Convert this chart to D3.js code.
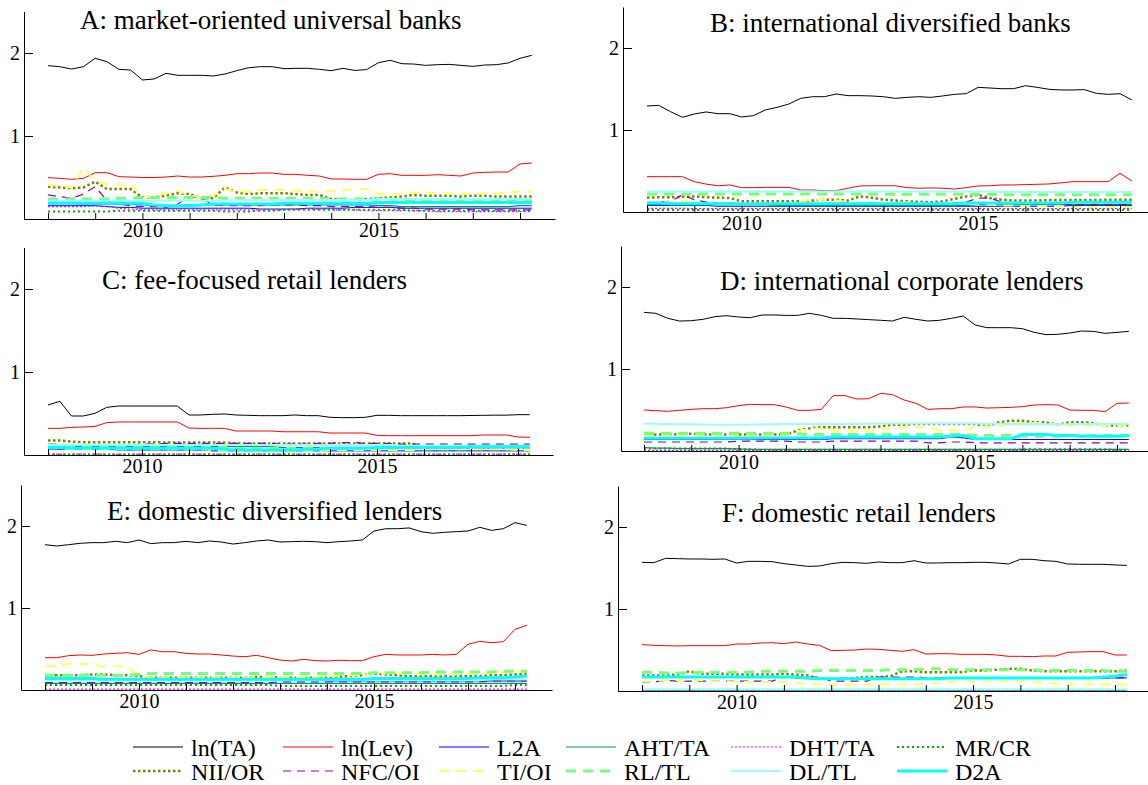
<!DOCTYPE html>
<html><head><meta charset="utf-8">
<script src="https://cdn.jsdelivr.net/npm/d3@7"></script>
<style>
html,body{margin:0;padding:0;background:#fff;}
svg{display:block;font-family:"Liberation Serif","Times New Roman",serif;}
</style></head><body>
<svg id="chart" width="1148" height="785"></svg>
<script>
const quarters = [2008,2008.25,2008.5,2008.75,2009,2009.25,2009.5,2009.75,2010,2010.25,2010.5,2010.75,2011,2011.25,2011.5,2011.75,2012,2012.25,2012.5,2012.75,2013,2013.25,2013.5,2013.75,2014,2014.25,2014.5,2014.75,2015,2015.25,2015.5,2015.75,2016,2016.25,2016.5,2016.75,2017,2017.25,2017.5,2017.75,2018,2018.25];
const seriesNames = ["ln(TA)","ln(Lev)","L2A","AHT/TA","DHT/TA","MR/CR","NII/OR","NFC/OI","TI/OI","RL/TL","DL/TL","D2A"];
const panelKeys = ["A","B","C","D","E","F"];
const panelTitles = ["A: market-oriented universal banks","B: international diversified banks","C: fee-focused retail lenders","D: international corporate lenders","E: domestic diversified lenders","F: domestic retail lenders"];
const yTicks = [1,2];
const xTickYears = [2008,2009,2010,2011,2012,2013,2014,2015,2016,2017,2018];
const xLabelYears = [2010,2015];

// ---- Panel A
const A_lnTA = [1.847,1.835,1.807,1.835,1.936,1.895,1.803,1.795,1.675,1.687,1.755,1.731,1.731,1.731,1.723,1.747,1.787,1.823,1.835,1.835,1.811,1.815,1.815,1.803,1.787,1.815,1.79,1.8,1.883,1.912,1.871,1.867,1.851,1.859,1.863,1.851,1.839,1.855,1.859,1.88,1.936,1.972];
const A_lnLev = [0.498,0.49,0.478,0.49,0.558,0.558,0.51,0.506,0.5,0.5,0.506,0.518,0.506,0.506,0.514,0.526,0.546,0.546,0.554,0.554,0.538,0.538,0.526,0.518,0.482,0.482,0.478,0.478,0.538,0.546,0.526,0.526,0.526,0.534,0.526,0.518,0.554,0.562,0.566,0.566,0.663,0.675];
const A_L2A = [0.16,0.16,0.16,0.16,0.16,0.15,0.14,0.14,0.13,0.13,0.13,0.13,0.13,0.13,0.13,0.13,0.13,0.13,0.12,0.12,0.12,0.12,0.13,0.13,0.13,0.13,0.14,0.14,0.14,0.14,0.13,0.13,0.13,0.13,0.13,0.13,0.13,0.13,0.13,0.13,0.13,0.13];
const A_AHT = [0.19,0.19,0.19,0.18,0.18,0.18,0.18,0.18,0.17,0.16,0.16,0.16,0.17,0.17,0.17,0.17,0.17,0.17,0.17,0.17,0.17,0.17,0.17,0.17,0.17,0.17,0.17,0.17,0.16,0.16,0.15,0.15,0.15,0.15,0.15,0.15,0.15,0.15,0.15,0.15,0.16,0.16];
const A_DHT = [0.15,0.15,0.15,0.15,0.16,0.15,0.13,0.12,0.11,0.11,0.11,0.11,0.11,0.11,0.11,0.11,0.11,0.11,0.11,0.11,0.11,0.12,0.12,0.12,0.11,0.11,0.11,0.1,0.1,0.1,0.1,0.1,0.1,0.09,0.09,0.09,0.09,0.09,0.09,0.09,0.09,0.09];
const A_MR = [0.09,0.09,0.09,0.09,0.09,0.09,0.1,0.1,0.1,0.1,0.1,0.1,0.1,0.1,0.1,0.09,0.09,0.09,0.1,0.1,0.11,0.11,0.11,0.11,0.11,0.11,0.11,0.11,0.11,0.11,0.11,0.1,0.1,0.1,0.1,0.1,0.1,0.1,0.1,0.1,0.1,0.1];
const A_NII = [0.39,0.38,0.37,0.38,0.45,0.36,0.36,0.36,0.26,0.26,0.28,0.31,0.3,0.25,0.25,0.38,0.32,0.3,0.31,0.31,0.31,0.3,0.29,0.29,0.24,0.23,0.23,0.24,0.25,0.26,0.27,0.29,0.28,0.28,0.28,0.27,0.28,0.28,0.27,0.27,0.27,0.27];
const A_NFC = [0.29,0.27,0.25,0.3,0.39,0.22,0.18,0.16,0.15,0.15,0.14,0.18,0.27,0.25,0.17,0.16,0.16,0.16,0.16,0.17,0.17,0.17,0.16,0.16,0.15,0.15,0.15,0.15,0.14,0.14,0.13,0.13,0.12,0.12,0.12,0.12,0.11,0.11,0.11,0.11,0.11,0.11];
const A_TI = [0.41,0.4,0.38,0.62,0.46,0.42,0.42,0.42,0.25,0.28,0.31,0.34,0.28,0.26,0.28,0.36,0.33,0.33,0.35,0.35,0.35,0.34,0.33,0.33,0.34,0.35,0.36,0.36,0.3,0.29,0.3,0.32,0.32,0.31,0.31,0.3,0.3,0.31,0.31,0.32,0.33,0.33];
const A_RL = [0.24,0.24,0.24,0.24,0.24,0.24,0.25,0.25,0.26,0.26,0.26,0.26,0.26,0.26,0.26,0.25,0.25,0.25,0.25,0.25,0.25,0.25,0.25,0.25,0.24,0.24,0.24,0.24,0.24,0.24,0.23,0.23,0.23,0.23,0.22,0.22,0.22,0.22,0.22,0.22,0.22,0.22];
const A_DL = [0.22,0.22,0.22,0.22,0.22,0.22,0.22,0.22,0.22,0.22,0.22,0.22,0.22,0.22,0.22,0.22,0.23,0.23,0.23,0.23,0.23,0.23,0.23,0.23,0.23,0.23,0.23,0.23,0.24,0.24,0.24,0.24,0.24,0.24,0.24,0.24,0.24,0.24,0.24,0.24,0.24,0.24];
const A_D2A = [0.19,0.19,0.19,0.19,0.19,0.19,0.19,0.19,0.19,0.17,0.16,0.16,0.16,0.17,0.18,0.18,0.18,0.18,0.18,0.18,0.19,0.19,0.19,0.19,0.19,0.19,0.19,0.19,0.2,0.2,0.2,0.2,0.2,0.2,0.2,0.2,0.2,0.2,0.2,0.2,0.2,0.2];

// ---- Panel B
const B_lnTA = [1.293,1.3,1.223,1.155,1.195,1.22,1.199,1.199,1.159,1.175,1.244,1.276,1.317,1.386,1.406,1.406,1.439,1.419,1.419,1.415,1.406,1.386,1.398,1.406,1.398,1.415,1.435,1.443,1.52,1.512,1.504,1.504,1.54,1.52,1.496,1.488,1.488,1.492,1.447,1.435,1.443,1.366];
const B_lnLev = [0.431,0.431,0.431,0.431,0.37,0.34,0.32,0.33,0.297,0.297,0.3,0.3,0.3,0.268,0.268,0.26,0.26,0.29,0.318,0.32,0.32,0.32,0.297,0.29,0.293,0.29,0.28,0.297,0.318,0.32,0.33,0.33,0.334,0.338,0.342,0.355,0.37,0.37,0.37,0.37,0.472,0.378];
const B_L2A = [0.08,0.08,0.08,0.08,0.08,0.08,0.07,0.07,0.07,0.07,0.07,0.07,0.07,0.07,0.07,0.07,0.07,0.07,0.07,0.07,0.07,0.07,0.07,0.07,0.07,0.07,0.07,0.07,0.07,0.07,0.07,0.07,0.07,0.07,0.07,0.07,0.08,0.08,0.08,0.08,0.08,0.08];
const B_AHT = [0.09,0.09,0.09,0.09,0.09,0.09,0.09,0.09,0.09,0.09,0.09,0.08,0.08,0.08,0.08,0.08,0.08,0.08,0.08,0.08,0.08,0.08,0.08,0.08,0.08,0.08,0.08,0.08,0.09,0.09,0.09,0.09,0.09,0.09,0.09,0.09,0.09,0.09,0.09,0.09,0.09,0.09];
const B_DHT = [0.045,0.045,0.045,0.045,0.04,0.04,0.04,0.04,0.04,0.04,0.04,0.04,0.04,0.04,0.04,0.04,0.04,0.04,0.04,0.04,0.04,0.04,0.04,0.04,0.04,0.04,0.04,0.04,0.04,0.04,0.04,0.04,0.04,0.04,0.04,0.04,0.04,0.04,0.04,0.04,0.04,0.04];
const B_MR = [0.025,0.025,0.025,0.025,0.025,0.025,0.025,0.025,0.025,0.025,0.025,0.025,0.025,0.025,0.025,0.025,0.025,0.025,0.025,0.025,0.025,0.025,0.025,0.025,0.025,0.025,0.025,0.025,0.025,0.025,0.025,0.025,0.025,0.025,0.025,0.025,0.025,0.025,0.025,0.025,0.025,0.025];
const B_NII = [0.175,0.18,0.18,0.185,0.19,0.18,0.175,0.17,0.13,0.13,0.13,0.13,0.13,0.13,0.14,0.15,0.15,0.14,0.19,0.175,0.15,0.14,0.13,0.125,0.12,0.13,0.16,0.19,0.21,0.17,0.15,0.14,0.14,0.14,0.145,0.145,0.145,0.145,0.145,0.15,0.15,0.15];
const B_NFC = [0.12,0.12,0.13,0.21,0.15,0.12,0.11,0.11,0.1,0.1,0.1,0.1,0.1,0.1,0.1,0.1,0.11,0.11,0.11,0.11,0.1,0.1,0.1,0.1,0.1,0.1,0.11,0.12,0.17,0.17,0.12,0.11,0.1,0.1,0.1,0.09,0.09,0.09,0.09,0.09,0.09,0.09];
const B_TI = [0.12,0.12,0.12,0.13,0.12,0.1,0.1,0.1,0.1,0.1,0.1,0.1,0.11,0.13,0.15,0.15,0.14,0.12,0.11,0.1,0.1,0.11,0.12,0.11,0.1,0.1,0.1,0.1,0.09,0.09,0.08,0.08,0.07,0.07,0.07,0.07,0.06,0.06,0.06,0.06,0.06,0.06];
const B_RL = [0.22,0.22,0.22,0.22,0.22,0.22,0.22,0.22,0.22,0.22,0.22,0.22,0.22,0.22,0.22,0.22,0.22,0.22,0.22,0.22,0.215,0.215,0.215,0.215,0.215,0.215,0.215,0.215,0.215,0.215,0.21,0.21,0.21,0.21,0.21,0.21,0.21,0.21,0.21,0.21,0.21,0.21];
const B_DL = [0.25,0.25,0.25,0.25,0.25,0.25,0.25,0.25,0.25,0.25,0.25,0.25,0.25,0.25,0.25,0.25,0.25,0.25,0.25,0.25,0.25,0.25,0.25,0.25,0.25,0.25,0.25,0.25,0.25,0.25,0.245,0.245,0.245,0.245,0.245,0.245,0.245,0.245,0.245,0.245,0.245,0.245];
const B_D2A = [0.11,0.11,0.1,0.1,0.1,0.1,0.1,0.1,0.1,0.1,0.1,0.1,0.1,0.1,0.1,0.1,0.1,0.1,0.1,0.1,0.1,0.1,0.1,0.1,0.1,0.1,0.1,0.11,0.11,0.11,0.11,0.11,0.11,0.11,0.11,0.11,0.12,0.12,0.12,0.12,0.12,0.12];

// ---- Panel C
const C_lnTA = [0.602,0.647,0.47,0.47,0.502,0.574,0.59,0.59,0.59,0.59,0.59,0.59,0.482,0.482,0.49,0.494,0.482,0.478,0.474,0.474,0.474,0.482,0.474,0.474,0.454,0.45,0.45,0.454,0.478,0.478,0.474,0.474,0.474,0.474,0.474,0.474,0.476,0.478,0.48,0.48,0.486,0.486];
const C_lnLev = [0.321,0.321,0.333,0.337,0.345,0.39,0.398,0.398,0.398,0.398,0.398,0.398,0.325,0.321,0.321,0.321,0.289,0.289,0.289,0.289,0.28,0.28,0.28,0.28,0.265,0.265,0.265,0.265,0.237,0.233,0.233,0.233,0.233,0.233,0.233,0.233,0.233,0.241,0.241,0.241,0.217,0.213];
const C_L2A = [0.07,0.07,0.07,0.07,0.07,0.07,0.06,0.06,0.06,0.06,0.06,0.06,0.06,0.06,0.05,0.05,0.05,0.05,0.05,0.05,0.05,0.05,0.05,0.05,0.05,0.05,0.05,0.05,0.05,0.05,0.05,0.05,0.05,0.05,0.05,0.05,0.05,0.05,0.05,0.05,0.05,0.05];
const C_AHT = [0.11,0.11,0.1,0.1,0.1,0.1,0.1,0.1,0.1,0.1,0.1,0.1,0.1,0.1,0.1,0.1,0.1,0.1,0.1,0.1,0.09,0.09,0.09,0.09,0.09,0.09,0.09,0.09,0.09,0.09,0.09,0.09,0.09,0.09,0.09,0.09,0.09,0.09,0.09,0.09,0.09,0.09];
const C_DHT = [0.01,0.01,0.01,0.01,0.01,0.01,0.01,0.01,0.01,0.01,0.01,0.01,0.01,0.01,0.01,0.01,0.01,0.01,0.01,0.01,0.01,0.01,0.01,0.01,0.01,0.01,0.01,0.01,0.01,0.01,0.01,0.01,0.01,0.01,0.01,0.01,0.01,0.01,0.01,0.01,0.01,0.01];
const C_MR = [0.005,0.005,0.005,0.005,0.005,0.005,0.005,0.005,0.005,0.005,0.005,0.005,0.005,0.005,0.005,0.005,0.005,0.005,0.005,0.005,0.005,0.005,0.005,0.005,0.005,0.005,0.005,0.005,0.005,0.005,0.005,0.005,0.005,0.005,0.005,0.005,0.005,0.005,0.005,0.005,0.005,0.005];
const C_NII = [0.175,0.175,0.16,0.155,0.155,0.155,0.155,0.155,0.155,0.155,0.15,0.15,0.15,0.15,0.15,0.15,0.14,0.14,0.14,0.14,0.14,0.14,0.14,0.14,0.14,0.14,0.14,0.14,0.14,0.14,0.14,0.14,0.09,0.09,0.09,0.09,0.09,0.09,0.09,0.09,0.09,0.09];
const C_NFC = [0.13,0.13,0.12,0.12,0.12,0.12,0.12,0.12,0.13,0.13,0.14,0.14,0.14,0.14,0.14,0.14,0.14,0.14,0.14,0.14,0.13,0.13,0.13,0.14,0.14,0.15,0.15,0.14,0.14,0.14,0.13,0.13,0.13,0.13,0.13,0.13,0.13,0.13,0.13,0.13,0.13,0.13];
const C_TI = [0.08,0.08,0.07,0.07,0.07,0.07,0.07,0.07,0.07,0.07,0.07,0.07,0.07,0.07,0.06,0.05,0.05,0.05,0.04,0.04,0.04,0.04,0.05,0.05,0.06,0.06,0.06,0.06,0.06,0.06,0.06,0.06,0.07,0.07,0.07,0.07,0.07,0.07,0.07,0.07,0.06,0.06];
const C_RL = [0.12,0.12,0.11,0.11,0.1,0.1,0.1,0.1,0.1,0.1,0.1,0.1,0.1,0.1,0.09,0.09,0.08,0.08,0.08,0.08,0.08,0.08,0.08,0.08,0.08,0.08,0.08,0.08,0.08,0.08,0.09,0.09,0.09,0.09,0.09,0.09,0.09,0.09,0.09,0.09,0.09,0.09];
const C_DL = [0.12,0.12,0.12,0.12,0.12,0.12,0.12,0.12,0.12,0.12,0.12,0.12,0.12,0.12,0.12,0.12,0.12,0.12,0.12,0.12,0.12,0.12,0.12,0.12,0.12,0.12,0.12,0.12,0.12,0.12,0.11,0.11,0.11,0.11,0.11,0.11,0.11,0.11,0.11,0.11,0.11,0.11];
const C_D2A = [0.09,0.09,0.08,0.08,0.08,0.08,0.08,0.08,0.08,0.08,0.08,0.08,0.08,0.08,0.08,0.07,0.06,0.06,0.06,0.06,0.06,0.06,0.07,0.07,0.08,0.08,0.08,0.08,0.09,0.09,0.09,0.09,0.09,0.09,0.09,0.09,0.1,0.1,0.1,0.1,0.1,0.1];

// ---- Panel D
const D_lnTA = [1.691,1.679,1.618,1.585,1.589,1.606,1.638,1.65,1.634,1.626,1.659,1.659,1.654,1.654,1.679,1.654,1.618,1.618,1.61,1.602,1.594,1.585,1.63,1.606,1.585,1.594,1.618,1.646,1.537,1.504,1.504,1.504,1.492,1.447,1.419,1.423,1.439,1.463,1.459,1.435,1.447,1.459];
const D_lnLev = [0.5,0.492,0.484,0.496,0.508,0.516,0.516,0.528,0.553,0.569,0.565,0.565,0.537,0.496,0.496,0.508,0.675,0.675,0.634,0.638,0.703,0.687,0.622,0.581,0.508,0.516,0.516,0.537,0.537,0.524,0.528,0.532,0.541,0.561,0.565,0.561,0.5,0.496,0.496,0.48,0.581,0.585];
const D_L2A = [0.14,0.14,0.14,0.14,0.14,0.14,0.14,0.14,0.14,0.14,0.14,0.14,0.14,0.14,0.14,0.14,0.15,0.15,0.15,0.15,0.15,0.15,0.15,0.15,0.15,0.15,0.17,0.16,0.14,0.14,0.14,0.14,0.14,0.14,0.14,0.14,0.14,0.14,0.14,0.14,0.14,0.14];
const D_AHT = [0.04,0.035,0.035,0.03,0.03,0.03,0.03,0.03,0.025,0.02,0.02,0.02,0.02,0.02,0.02,0.02,0.02,0.02,0.02,0.02,0.02,0.02,0.02,0.02,0.02,0.02,0.02,0.02,0.02,0.02,0.02,0.02,0.02,0.02,0.02,0.02,0.02,0.02,0.02,0.02,0.02,0.02];
const D_DHT = [0.008,0.008,0.008,0.008,0.008,0.008,0.008,0.008,0.008,0.008,0.008,0.008,0.008,0.008,0.008,0.008,0.008,0.008,0.008,0.008,0.008,0.008,0.008,0.008,0.008,0.008,0.008,0.008,0.008,0.008,0.008,0.008,0.008,0.008,0.008,0.008,0.008,0.008,0.008,0.008,0.008,0.008];
const D_MR = [0.03,0.03,0.03,0.03,0.03,0.03,0.03,0.03,0.02,0.02,0.015,0.015,0.015,0.015,0.015,0.015,0.015,0.015,0.015,0.015,0.015,0.015,0.015,0.015,0.015,0.015,0.015,0.015,0.015,0.015,0.015,0.015,0.02,0.02,0.02,0.02,0.02,0.02,0.02,0.02,0.015,0.015];
const D_NII = [0.195,0.2,0.2,0.205,0.21,0.2,0.2,0.2,0.2,0.2,0.2,0.2,0.2,0.25,0.276,0.29,0.29,0.29,0.29,0.29,0.3,0.32,0.32,0.33,0.33,0.33,0.33,0.33,0.33,0.3,0.35,0.37,0.37,0.35,0.35,0.32,0.35,0.35,0.34,0.31,0.31,0.31];
const D_NFC = [0.11,0.11,0.11,0.11,0.11,0.11,0.11,0.11,0.12,0.12,0.12,0.12,0.12,0.11,0.11,0.11,0.12,0.12,0.12,0.12,0.12,0.12,0.12,0.12,0.1,0.1,0.11,0.11,0.1,0.1,0.1,0.1,0.1,0.1,0.1,0.1,0.1,0.1,0.1,0.1,0.1,0.1];
const D_TI = [0.19,0.19,0.19,0.19,0.19,0.19,0.19,0.19,0.19,0.19,0.19,0.19,0.19,0.24,0.27,0.27,0.25,0.25,0.25,0.25,0.26,0.29,0.29,0.29,0.29,0.25,0.25,0.25,0.3,0.3,0.3,0.34,0.34,0.34,0.34,0.32,0.31,0.31,0.31,0.31,0.31,0.31];
const D_RL = [0.215,0.215,0.215,0.215,0.215,0.215,0.215,0.215,0.215,0.215,0.215,0.215,0.215,0.21,0.2,0.2,0.2,0.2,0.2,0.2,0.2,0.2,0.2,0.2,0.2,0.2,0.2,0.2,0.19,0.19,0.19,0.19,0.18,0.18,0.18,0.18,0.19,0.19,0.19,0.19,0.19,0.19];
const D_DL = [0.333,0.333,0.33,0.327,0.325,0.323,0.32,0.32,0.32,0.322,0.325,0.327,0.328,0.33,0.33,0.33,0.33,0.33,0.33,0.333,0.335,0.335,0.335,0.335,0.335,0.335,0.335,0.335,0.335,0.333,0.333,0.33,0.33,0.327,0.325,0.325,0.327,0.33,0.33,0.33,0.333,0.333];
const D_D2A = [0.155,0.155,0.155,0.155,0.155,0.155,0.155,0.155,0.155,0.155,0.16,0.16,0.16,0.16,0.16,0.16,0.17,0.17,0.17,0.17,0.17,0.17,0.17,0.17,0.17,0.17,0.18,0.19,0.15,0.15,0.15,0.15,0.2,0.2,0.2,0.19,0.19,0.18,0.18,0.18,0.18,0.19];

// ---- Panel E
const E_lnTA = [1.772,1.756,1.772,1.789,1.797,1.797,1.813,1.797,1.829,1.785,1.797,1.797,1.813,1.797,1.817,1.805,1.78,1.797,1.817,1.829,1.805,1.809,1.813,1.809,1.797,1.809,1.817,1.829,1.939,1.967,1.967,1.976,1.931,1.911,1.923,1.931,1.939,1.984,1.947,1.967,2.041,2.008];
const E_lnLev = [0.394,0.394,0.419,0.427,0.423,0.439,0.447,0.455,0.435,0.488,0.467,0.467,0.447,0.439,0.439,0.427,0.414,0.406,0.423,0.394,0.366,0.354,0.374,0.358,0.354,0.362,0.358,0.358,0.406,0.435,0.427,0.427,0.427,0.435,0.427,0.435,0.557,0.593,0.577,0.589,0.74,0.789];
const E_L2A = [0.14,0.14,0.14,0.13,0.13,0.13,0.13,0.13,0.13,0.13,0.12,0.12,0.12,0.12,0.12,0.12,0.12,0.12,0.12,0.12,0.12,0.12,0.12,0.12,0.11,0.11,0.11,0.11,0.11,0.11,0.11,0.11,0.11,0.11,0.11,0.11,0.11,0.11,0.11,0.11,0.11,0.11];
const E_AHT = [0.08,0.08,0.08,0.08,0.08,0.08,0.08,0.08,0.08,0.08,0.08,0.08,0.08,0.08,0.08,0.08,0.08,0.08,0.08,0.08,0.08,0.08,0.08,0.08,0.08,0.08,0.08,0.08,0.08,0.08,0.08,0.08,0.08,0.08,0.08,0.08,0.08,0.08,0.08,0.08,0.08,0.08];
const E_DHT = [0.01,0.01,0.01,0.01,0.01,0.01,0.01,0.01,0.01,0.01,0.01,0.01,0.01,0.01,0.01,0.01,0.01,0.01,0.01,0.01,0.01,0.01,0.01,0.01,0.01,0.01,0.01,0.01,0.01,0.01,0.01,0.01,0.01,0.01,0.01,0.01,0.01,0.01,0.01,0.01,0.01,0.01];
const E_MR = [0.06,0.06,0.06,0.06,0.06,0.06,0.06,0.06,0.06,0.06,0.06,0.06,0.06,0.06,0.06,0.06,0.06,0.06,0.06,0.06,0.05,0.05,0.05,0.05,0.05,0.05,0.05,0.05,0.05,0.05,0.05,0.05,0.05,0.05,0.05,0.05,0.05,0.05,0.05,0.05,0.06,0.06];
const E_NII = [0.18,0.18,0.18,0.18,0.19,0.19,0.18,0.18,0.17,0.15,0.15,0.15,0.15,0.15,0.15,0.15,0.15,0.15,0.16,0.16,0.15,0.15,0.15,0.15,0.15,0.16,0.17,0.18,0.2,0.19,0.18,0.17,0.17,0.17,0.17,0.17,0.17,0.17,0.18,0.18,0.19,0.2];
const E_NFC = [0.09,0.09,0.09,0.09,0.09,0.09,0.09,0.09,0.09,0.09,0.09,0.09,0.09,0.09,0.09,0.09,0.09,0.09,0.09,0.09,0.1,0.1,0.1,0.1,0.1,0.1,0.1,0.1,0.1,0.1,0.1,0.1,0.1,0.1,0.1,0.1,0.1,0.1,0.11,0.11,0.11,0.11];
const E_TI = [0.285,0.3,0.32,0.32,0.31,0.29,0.29,0.29,0.17,0.15,0.15,0.15,0.15,0.15,0.15,0.15,0.15,0.15,0.16,0.16,0.16,0.16,0.16,0.16,0.17,0.17,0.18,0.18,0.2,0.2,0.2,0.2,0.19,0.19,0.19,0.19,0.2,0.2,0.21,0.22,0.23,0.23];
const E_RL = [0.18,0.18,0.18,0.18,0.18,0.18,0.18,0.18,0.19,0.2,0.2,0.2,0.2,0.2,0.2,0.2,0.2,0.2,0.2,0.2,0.2,0.2,0.2,0.2,0.2,0.2,0.2,0.2,0.21,0.21,0.21,0.21,0.21,0.22,0.22,0.22,0.22,0.22,0.22,0.23,0.23,0.23];
const E_DL = [0.12,0.12,0.12,0.12,0.12,0.12,0.12,0.12,0.12,0.12,0.12,0.12,0.12,0.12,0.12,0.12,0.12,0.12,0.12,0.12,0.12,0.12,0.12,0.12,0.12,0.12,0.12,0.12,0.12,0.12,0.12,0.12,0.12,0.12,0.12,0.12,0.12,0.12,0.13,0.13,0.13,0.13];
const E_D2A = [0.14,0.14,0.14,0.14,0.14,0.13,0.13,0.13,0.13,0.13,0.13,0.13,0.13,0.13,0.13,0.13,0.13,0.13,0.13,0.13,0.13,0.13,0.13,0.13,0.13,0.13,0.13,0.13,0.14,0.14,0.14,0.14,0.14,0.14,0.14,0.14,0.14,0.15,0.15,0.15,0.16,0.17];

// ---- Panel F
const F_lnTA = [1.569,1.565,1.618,1.614,1.61,1.61,1.606,1.61,1.561,1.581,1.581,1.577,1.553,1.537,1.52,1.524,1.553,1.569,1.565,1.557,1.573,1.565,1.565,1.589,1.561,1.561,1.565,1.565,1.569,1.569,1.561,1.549,1.606,1.606,1.589,1.581,1.549,1.545,1.545,1.545,1.537,1.532];
const F_lnLev = [0.565,0.557,0.553,0.549,0.553,0.553,0.553,0.553,0.573,0.573,0.585,0.589,0.577,0.598,0.573,0.557,0.492,0.496,0.5,0.512,0.508,0.496,0.484,0.504,0.451,0.455,0.455,0.447,0.447,0.447,0.439,0.423,0.423,0.419,0.427,0.427,0.472,0.476,0.48,0.48,0.439,0.439];
const F_L2A = [0.17,0.17,0.17,0.17,0.17,0.17,0.17,0.17,0.17,0.17,0.17,0.17,0.17,0.16,0.15,0.15,0.15,0.15,0.15,0.15,0.15,0.15,0.15,0.15,0.15,0.15,0.16,0.16,0.16,0.16,0.16,0.16,0.16,0.16,0.16,0.16,0.16,0.16,0.16,0.16,0.16,0.16];
const F_AHT = [0.01,0.01,0.01,0.01,0.01,0.01,0.01,0.01,0.01,0.01,0.01,0.01,0.01,0.01,0.01,0.01,0.01,0.01,0.01,0.01,0.01,0.01,0.01,0.01,0.01,0.01,0.01,0.01,0.01,0.01,0.01,0.01,0.01,0.01,0.01,0.01,0.01,0.01,0.01,0.01,0.01,0.01];
const F_DHT = [0.005,0.005,0.005,0.005,0.005,0.005,0.005,0.005,0.005,0.005,0.005,0.005,0.005,0.005,0.005,0.005,0.005,0.005,0.005,0.005,0.005,0.005,0.005,0.005,0.005,0.005,0.005,0.005,0.005,0.005,0.005,0.005,0.005,0.005,0.005,0.005,0.005,0.005,0.005,0.005,0.005,0.005];
const F_MR = [0.01,0.01,0.01,0.01,0.01,0.01,0.01,0.01,0.01,0.01,0.01,0.01,0.01,0.01,0.01,0.01,0.01,0.01,0.01,0.01,0.01,0.01,0.01,0.01,0.01,0.01,0.01,0.01,0.01,0.01,0.01,0.01,0.01,0.01,0.01,0.01,0.01,0.01,0.01,0.01,0.01,0.01];
const F_NII = [0.19,0.19,0.19,0.2,0.24,0.21,0.21,0.21,0.2,0.2,0.2,0.2,0.21,0.2,0.19,0.15,0.15,0.15,0.16,0.17,0.17,0.18,0.24,0.24,0.23,0.23,0.23,0.23,0.25,0.25,0.26,0.27,0.27,0.25,0.24,0.24,0.24,0.24,0.24,0.24,0.24,0.25];
const F_NFC = [0.11,0.11,0.13,0.12,0.12,0.12,0.12,0.12,0.12,0.12,0.12,0.12,0.17,0.17,0.17,0.17,0.12,0.12,0.12,0.12,0.17,0.17,0.17,0.17,0.16,0.16,0.16,0.16,0.16,0.16,0.16,0.16,0.16,0.16,0.16,0.16,0.16,0.16,0.16,0.16,0.16,0.16];
const F_TI = [0.12,0.12,0.13,0.13,0.14,0.13,0.12,0.12,0.11,0.11,0.11,0.11,0.11,0.1,0.09,0.08,0.08,0.08,0.08,0.08,0.08,0.08,0.08,0.08,0.09,0.1,0.11,0.12,0.12,0.12,0.12,0.12,0.12,0.11,0.1,0.09,0.08,0.08,0.08,0.08,0.08,0.08];
const F_RL = [0.23,0.23,0.22,0.22,0.22,0.23,0.23,0.23,0.23,0.23,0.24,0.24,0.24,0.24,0.24,0.25,0.25,0.25,0.25,0.25,0.25,0.26,0.26,0.26,0.27,0.27,0.26,0.26,0.26,0.26,0.26,0.26,0.26,0.26,0.25,0.25,0.25,0.25,0.25,0.25,0.24,0.24];
const F_DL = [0.02,0.02,0.02,0.02,0.02,0.02,0.02,0.02,0.02,0.02,0.02,0.02,0.02,0.02,0.02,0.02,0.02,0.02,0.02,0.02,0.02,0.02,0.02,0.02,0.02,0.02,0.02,0.02,0.02,0.02,0.02,0.02,0.02,0.02,0.02,0.02,0.02,0.02,0.02,0.02,0.02,0.02];
const F_D2A = [0.17,0.17,0.17,0.17,0.17,0.17,0.17,0.17,0.17,0.17,0.17,0.17,0.17,0.17,0.16,0.15,0.15,0.15,0.15,0.15,0.15,0.15,0.15,0.15,0.15,0.15,0.16,0.16,0.16,0.16,0.16,0.16,0.16,0.16,0.16,0.16,0.16,0.16,0.16,0.17,0.18,0.2];

const panelSeries = {
  A: [A_lnTA,A_lnLev,A_L2A,A_AHT,A_DHT,A_MR,A_NII,A_NFC,A_TI,A_RL,A_DL,A_D2A],
  B: [B_lnTA,B_lnLev,B_L2A,B_AHT,B_DHT,B_MR,B_NII,B_NFC,B_TI,B_RL,B_DL,B_D2A],
  C: [C_lnTA,C_lnLev,C_L2A,C_AHT,C_DHT,C_MR,C_NII,C_NFC,C_TI,C_RL,C_DL,C_D2A],
  D: [D_lnTA,D_lnLev,D_L2A,D_AHT,D_DHT,D_MR,D_NII,D_NFC,D_TI,D_RL,D_DL,D_D2A],
  E: [E_lnTA,E_lnLev,E_L2A,E_AHT,E_DHT,E_MR,E_NII,E_NFC,E_TI,E_RL,E_DL,E_D2A],
  F: [F_lnTA,F_lnLev,F_L2A,F_AHT,F_DHT,F_MR,F_NII,F_NFC,F_TI,F_RL,F_DL,F_D2A]
};

// ---- styles & layout (not data)
const seriesStyles = [
  {color:"#000000", width:1},
  {color:"#ff0000", width:1},
  {color:"#0000ff", width:1},
  {color:"#008b8b", width:1.2},
  {color:"#ff00ff", width:1.2, dash:"2,2"},
  {color:"#00b000", width:2, dash:"2,3"},
  {color:"#808000", width:2.5, dash:"2.5,2.5"},
  {color:"#990099", width:1.2, dash:"8,6"},
  {color:"#ffff66", width:2, dash:"10,7"},
  {color:"#77ff77", width:3, dash:"10,7"},
  {color:"#99ffff", width:2},
  {color:"#00ffff", width:3}
];
const panelLayout = [
  {left:24,  x2008:48,  ppy:47.2, right:555,  y0:219, ppu:83, titleX:80,  titleY:29},
  {left:623, x2008:647, ppy:47.3, right:1148, y0:212, ppu:82, titleX:710, titleY:32},
  {left:24,  x2008:48,  ppy:47.0, right:553,  y0:455, ppu:83, titleX:102, titleY:289},
  {left:621, x2008:644, ppy:47.3, right:1148, y0:451, ppu:82, titleX:720, titleY:290},
  {left:21,  x2008:45,  ppy:47.0, right:552,  y0:690, ppu:82, titleX:107, titleY:520},
  {left:618, x2008:642, ppy:47.3, right:1148, y0:691, ppu:82, titleX:722, titleY:522}
];
const legendColX = [133,283,439,566,731,897];
const legendRowY = [747,771];

const svg = d3.select("#chart");

panelLayout.forEach((L, p) => {
  const key = panelKeys[p];
  const x = d3.scaleLinear()
    .domain([2008 - (L.x2008 - L.left) / L.ppy, 2008 + (L.right - L.x2008) / L.ppy])
    .range([L.left, L.right]);
  const y = d3.scaleLinear().domain([0, 2.5]).range([L.y0, L.y0 - 2.5 * L.ppu]);
  const g = svg.append("g");
  const line = d3.line().x((d, i) => x(quarters[i])).y(d => y(d));
  panelSeries[key].forEach((vals, s) => {
    const st = seriesStyles[s];
    g.append("path")
      .attr("d", line(vals))
      .attr("fill", "none")
      .attr("stroke", st.color)
      .attr("stroke-width", st.width)
      .attr("stroke-dasharray", st.dash || null);
  });
  const xa = g.append("g").attr("transform", `translate(0,${L.y0})`)
    .call(d3.axisBottom(x)
      .tickValues(xTickYears.filter(v => x(v) <= L.right))
      .tickSizeInner(-6).tickSizeOuter(0).tickPadding(4)
      .tickFormat(d => xLabelYears.includes(d) ? String(d) : ""));
  const ya = g.append("g").attr("transform", `translate(${L.left},0)`)
    .call(d3.axisLeft(y).tickValues(yTicks)
      .tickSizeInner(-9).tickSizeOuter(0).tickPadding(4)
      .tickFormat(d3.format("d")));
  [xa, ya].forEach(a => {
    a.attr("font-family", null).attr("font-size", 20);
    a.selectAll("text").attr("fill", "#000");
    a.selectAll("line,path").attr("stroke", "#000");
  });
  g.append("text")
    .attr("x", L.titleX).attr("y", L.titleY)
    .attr("font-size", 27).attr("fill", "#000")
    .text(panelTitles[p]);
});

// legend
const lg = svg.append("g");
seriesNames.forEach((name, i) => {
  const row = Math.floor(i / 6), col = i % 6;
  const st = seriesStyles[i];
  const lx = legendColX[col], ly = legendRowY[row];
  lg.append("line")
    .attr("x1", lx).attr("x2", lx + 50)
    .attr("y1", ly).attr("y2", ly)
    .attr("stroke", st.color)
    .attr("stroke-width", st.width)
    .attr("stroke-dasharray", st.dash || null);
  lg.append("text")
    .attr("x", lx + 58).attr("y", ly + 8.5)
    .attr("font-size", 24).attr("fill", "#000")
    .text(name);
});
</script>
</body></html>
